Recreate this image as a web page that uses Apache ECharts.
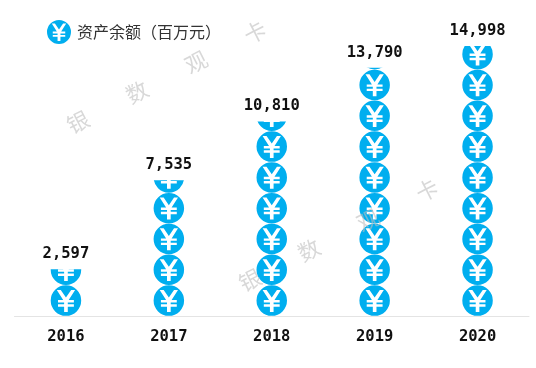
<!DOCTYPE html>
<html>
<head>
<meta charset="utf-8">
<style>html,body{margin:0;padding:0;background:#fff}#chart{width:536px;height:368px}</style>
<script src="https://cdn.jsdelivr.net/npm/echarts@6/dist/echarts.min.js"></script>
</head>
<body>
<div id="chart"></div>
<script>
var years = ['2016', '2017', '2018', '2019', '2020'];
var balances = [2597, 7535, 10810, 13790, 14998];
var seriesName = '资产余额（百万元）';
var watermarkChars = ['银', '数', '观', '卡'];

// coin with the yen sign cut out (inner outline runs the other way round)
var coin = 'path://M50 0A50 50 0 1 1 50 100A50 50 0 1 1 50 0Z' +
  'M41 48L24 48L24 56L44 56L44 62L24 62L24 70L44 70L44 87L56 87L56 70L76 70L76 62L56 62L56 56L76 56L76 48L59 48L80 15L67 15L50 40L33 15L20 15Z';

function watermark(x0, y0) {
  return watermarkChars.map(function (c, i) {
    return {
      type: 'text',
      x: x0 + i * 59,
      y: y0 - i * 30,
      rotation: 0.47,
      z: 100,
      silent: true,
      style: {
        text: c,
        fill: 'rgba(190,190,190,0.6)',
        font: '22px "Noto Sans CJK SC"',
        align: 'center',
        verticalAlign: 'middle'
      }
    };
  });
}

var chart = echarts.init(document.getElementById('chart'), null, { renderer: 'canvas' });
chart.setOption({
  animation: false,
  backgroundColor: '#fff',
  legend: {
    left: 47,
    top: 20,
    padding: 0,
    itemWidth: 24,
    itemHeight: 24,
    itemGap: 6,
    textStyle: { color: '#333', fontSize: 16, fontFamily: 'Noto Sans CJK SC', padding: [0, 0, 0, 1] },
    data: [{ name: seriesName, icon: coin }]
  },
  grid: { left: 14.5, right: 7, top: 16, bottom: 52 },
  xAxis: {
    type: 'category',
    data: years,
    axisTick: { show: false },
    axisLine: { lineStyle: { color: '#e4e4e4', width: 1 } },
    axisLabel: { color: '#111', fontSize: 15.5, fontWeight: 'bold', fontFamily: 'DejaVu Sans Mono', margin: 13 }
  },
  yAxis: { type: 'value', min: 0, max: 16667, show: false, splitLine: { show: false } },
  series: [{
    name: seriesName,
    type: 'pictorialBar',
    data: balances,
    symbol: coin,
    symbolSize: [30.5, 30.5],
    symbolMargin: '0.15!',
    symbolRepeat: true,
    symbolClip: true,
    // nine coins fit in this height, which sets the coin pitch
    symbolBoundingData: 15400,
    symbolPosition: 'start',
    itemStyle: { color: '#00aeef' }
  }, {
    // invisible bar, only there to hold the value labels at the true height
    name: 'labels',
    type: 'bar',
    data: balances,
    barWidth: 30,
    barGap: '-100%',
    silent: true,
    itemStyle: { color: 'transparent' },
    label: {
      show: true,
      position: 'top',
      distance: 7,
      color: '#111',
      fontSize: 15.5,
      fontWeight: 'bold',
      fontFamily: 'DejaVu Sans Mono',
      formatter: function (p) { return p.value.toLocaleString('en-US'); }
    }
  }],
  graphic: watermark(78, 122).concat(watermark(250, 280))
});
</script>
</body>
</html>
